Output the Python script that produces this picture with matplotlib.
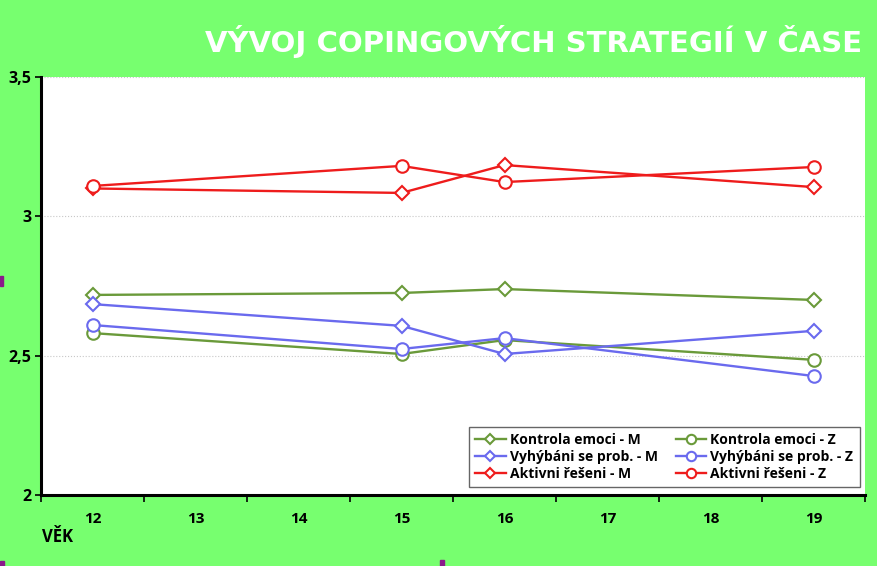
import matplotlib.pyplot as plt
import matplotlib.patches as mpatches
from matplotlib.ticker import FixedLocator

plt.rcParams['font.family'] = ['Open Sans', 'DejaVu Sans']

# data
vek = [12, 15, 16, 19]
kontrola_m = [2.718, 2.725, 2.739, 2.700]
kontrola_z = [2.581, 2.506, 2.556, 2.485]
vyhybani_m = [2.685, 2.607, 2.506, 2.589]
vyhybani_z = [2.610, 2.524, 2.563, 2.427]
aktivni_m = [3.100, 3.084, 3.184, 3.105]
aktivni_z = [3.109, 3.181, 3.123, 3.177]

x_labels = [12, 13, 14, 15, 16, 17, 18, 19]
y_ticks = [2, 2.5, 3, 3.5]
y_labels = ['2', '2,5', '3', '3,5']

bg = '#77ff6f'
green = '#6a9a3a'
blue = '#6a6aee'
red = '#ee1c1c'

fig = plt.figure(figsize=(8.78, 5.66), dpi=100)
fig.patch.set_facecolor(bg)
ax = fig.add_axes([41/878, 71/566, 824/878, 418/566])
ax.set_facecolor('white')

series = [
    (kontrola_m, green, 'D', 'Kontrola emoci - M'),
    (kontrola_z, green, 'o', 'Kontrola emoci - Z'),
    (vyhybani_m, blue, 'D', 'Vyhýbáni se prob. - M'),
    (vyhybani_z, blue, 'o', 'Vyhýbáni se prob. - Z'),
    (aktivni_m, red, 'D', 'Aktivni řešeni - M'),
    (aktivni_z, red, 'o', 'Aktivni řešeni - Z'),
]
lines = []
for vals, col, mk, lab in series:
    ln, = ax.plot(vek, vals, color=col, lw=1.7, marker=mk,
                  markersize=7 if mk == 'D' else 9, markerfacecolor='white',
                  markeredgecolor=col, markeredgewidth=1.5, label=lab, zorder=3)
    lines.append(ln)

ax.set_xlim(11.5, 19.5)
ax.set_ylim(2, 3.5)
ax.set_xticks(x_labels)
ax.set_xticklabels([str(v) for v in x_labels], fontsize=11, fontweight='bold')
ax.xaxis.set_minor_locator(FixedLocator([v + 0.5 for v in range(11, 20)]))
ax.tick_params(axis='x', which='major', length=0, pad=12)
ax.tick_params(axis='x', which='minor', length=5, width=1.2, direction='out')
ax.set_yticks(y_ticks)
ax.set_yticklabels(y_labels, fontsize=11.5, fontweight='bold')
ax.tick_params(axis='y', length=4, width=1.2, pad=3)

ax.grid(axis='y', color='#c8c8c8', lw=0.8, ls=':')
ax.set_axisbelow(True)
for s in ['top', 'right']:
    ax.spines[s].set_visible(False)
for s in ['left', 'bottom']:
    ax.spines[s].set_linewidth(2.2)

# legend filled column by column: M series left, Z series right
order = [0, 2, 4, 1, 3, 5]
leg = ax.legend([lines[i] for i in order], [series[i][3] for i in order],
                ncol=2, loc='lower right', bbox_to_anchor=(1.002, 0.003),
                prop={'weight': 'bold', 'size': 10}, markerscale=0.75,
                frameon=True, fancybox=False, edgecolor='#404040',
                handlelength=2.2, columnspacing=1.3, labelspacing=0.2,
                borderpad=0.45, handletextpad=0.3)
leg.get_frame().set_linewidth(1.0)

fig.text(0.982, 0.926, 'VÝVOJ COPINGOVÝCH STRATEGIÍ V ČASE', color='white',
         fontsize=21, fontweight='bold', ha='right', va='center',
         family=['DejaVu Sans'])
fig.text(42/878, 1 - 537/566, 'VĚK', fontsize=12, fontweight='bold', ha='left', va='center')

# small purple marks at the edges
for (x0, y0, w, h) in [(0, 276, 3, 10), (0, 561, 4, 5), (440, 560, 4, 6)]:
    fig.patches.append(mpatches.Rectangle((x0/878, 1 - (y0 + h)/566), w/878, h/566,
                                          transform=fig.transFigure, color='#8a1a8a'))

fig.savefig('out.png', dpi=100, facecolor=bg)
